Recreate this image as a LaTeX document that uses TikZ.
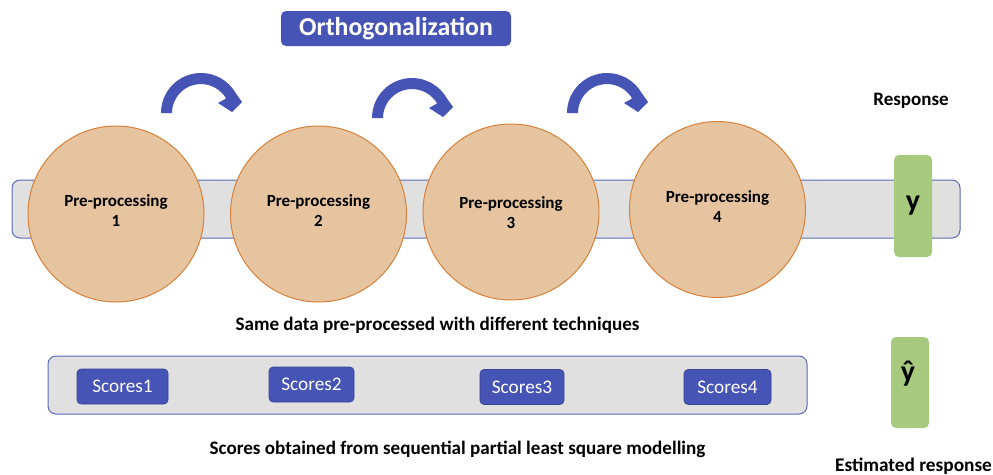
\documentclass[tikz,border=0pt]{standalone}
\usepackage{fontspec}
\setmainfont{Carlito}
\usetikzlibrary{calc}
\definecolor{ublue}{RGB}{70,84,182}
\definecolor{ubluedark}{RGB}{55,66,150}
\definecolor{peach}{RGB}{230,196,160}
\definecolor{peachline}{RGB}{214,130,60}
\definecolor{bandgray}{RGB}{224,224,224}
\definecolor{bandline}{RGB}{92,106,182}
\definecolor{ugreen}{RGB}{168,202,126}
\tikzset{
  band/.style={draw=bandline, line width=1pt, fill=bandgray, rounded corners=8pt, inner sep=0pt},
  circ/.style={circle, draw=peachline, line width=1pt, fill=peach, inner sep=0pt, minimum size=176pt},
  ptext/.style={align=center, font=\fontsize{17}{20}\selectfont\bfseries, inner sep=0pt},
  scorebox/.style={draw=ubluedark, line width=0.6pt, fill=ublue, rounded corners=4pt, text=white,
    font=\fontsize{19.3}{21}\selectfont, minimum height=35pt, inner sep=0pt},
  greenbox/.style={fill=ugreen, rounded corners=5pt, inner sep=0pt},
  caption/.style={font=\fontsize{19.1}{22}\selectfont\bfseries, inner sep=0pt},
  sidelabel/.style={font=\fontsize{19}{22}\selectfont\bfseries, inner sep=0pt},
  curvarrow/.style={fill=ublue}
}
\begin{document}
\begin{tikzpicture}[x=1pt,y=-1pt]
\useasboundingbox[fill=white] (0,0) rectangle (993,474);
\clip (0,0) rectangle (993,474);

% title
\node[fill=ublue, rounded corners=5pt, minimum width=230pt, minimum height=35pt, inner sep=0pt,
  text=white, font=\fontsize{25.8}{28}\selectfont\bfseries] (ortho) at (396,28.5) {Orthogonalization};

% curved arrows
\foreach \cx/\cy/\nm in {201/113/a1, 412/118/a2, 607/113/a3}{
  \coordinate (\nm) at (\cx,\cy);
  \begin{scope}[shift={(\nm)}]
    \fill[curvarrow] (-40pt,0pt) arc[start angle=180, end angle=30, radius=40pt]
      -- (41pt,11pt) -- (31pt,1pt) -- (17pt,10pt) -- (30:29pt)
      arc[start angle=30, end angle=180, radius=29pt] -- cycle;
  \end{scope}
}

% upper band
\node[band, minimum width=948pt, minimum height=58pt] (topband) at (486,209) {};

% circles
\node[circ] (p1) at (116,214) {};
\node[circ] (p2) at (318.5,214) {};
\node[circ] (p3) at (511,212) {};
\node[circ] (p4) at (717.5,209.5) {};
\node[ptext] (t1) at (116,211) {Pre-processing\\1};
\node[ptext] (t2) at (318.5,211) {Pre-processing\\2};
\node[ptext] (t3) at (511,213) {Pre-processing\\3};
\node[ptext] (t4) at (717.5,207) {Pre-processing\\4};

% response
\node[sidelabel] (resp) at (911,101) {Response};
\node[greenbox, minimum width=38pt, minimum height=102pt] (ybox) at (913,206) {};
\node[font=\fontsize{30}{32}\selectfont\bfseries, inner sep=0pt] (y) at (913,206) {y};

\node[caption] (cap1) at (437.5,325) {Same data pre-processed with different techniques};

% lower band
\node[band, minimum width=759pt, minimum height=58pt] (lowband) at (427.5,385) {};
\node[scorebox, minimum width=91pt] (s1) at (122.5,386.5) {Scores1};
\node[scorebox, minimum width=85pt] (s2) at (311.5,384.5) {Scores2};
\node[scorebox, minimum width=84pt] (s3) at (522,387) {Scores3};
\node[scorebox, minimum width=87pt] (s4) at (727.5,387) {Scores4};

\node[greenbox, minimum width=38pt, minimum height=91pt] (yhbox) at (910,382.5) {};
\node[font=\fontsize{30}{32}\selectfont\bfseries, inner sep=0pt] (yh) at (908,374) {ŷ};

\node[caption] (cap2) at (457.5,449) {Scores obtained from sequential partial least square modelling};
\node[font=\fontsize{19.3}{22}\selectfont\bfseries, inner sep=0pt, anchor=base west] (est) at (835,471) {Estimated response};
\end{tikzpicture}
\end{document}
